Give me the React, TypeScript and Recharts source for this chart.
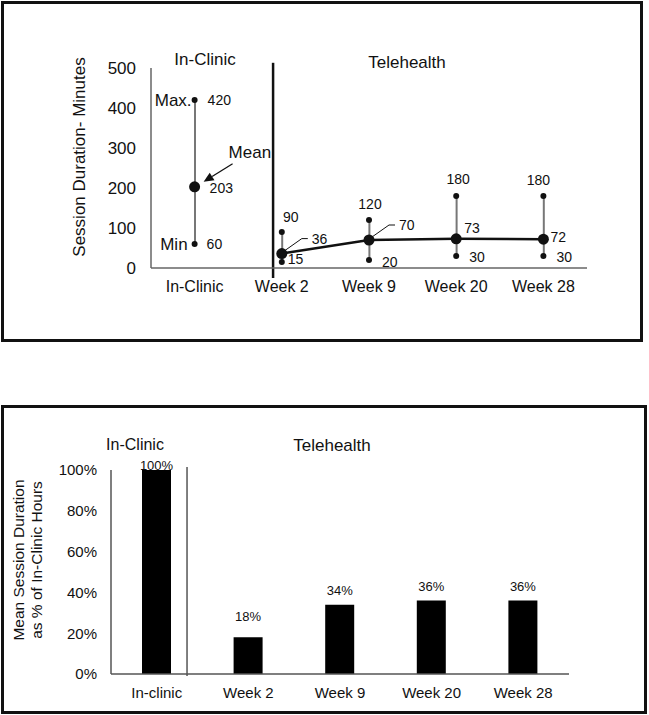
import React from "react";
import {
  ComposedChart,
  BarChart,
  Bar,
  Line,
  XAxis,
  YAxis,
  ReferenceLine,
  LabelList,
} from "recharts";

const FONT = "'Liberation Sans', Arial, sans-serif";
const INK = "#111";

// top panel: session duration in minutes
const SESSIONS = ["In-Clinic", "Week 2", "Week 9", "Week 20", "Week 28"];
const MIN_MINUTES = [60, 15, 20, 30, 30];
const MEAN_MINUTES = [203, 36, 70, 73, 72];
const MAX_MINUTES = [420, 90, 120, 180, 180];
const MINUTE_TICKS = [0, 100, 200, 300, 400, 500];

// bottom panel: mean duration as % of in-clinic
const PCT_CATEGORIES = ["In-clinic", "Week 2", "Week 9", "Week 20", "Week 28"];
const PCT_OF_CLINIC = [100, 18, 34, 36, 36];
const PCT_TICKS = [0, 20, 40, 60, 80, 100];

const durationData = SESSIONS.map((name, i) => ({
  name,
  range: [MIN_MINUTES[i], MAX_MINUTES[i]],
  min: MIN_MINUTES[i],
  max: MAX_MINUTES[i],
  clinicMean: i === 0 ? MEAN_MINUTES[i] : null,
  teleMean: i === 0 ? null : MEAN_MINUTES[i],
}));

const pctData = PCT_CATEGORIES.map((name, i) => ({ name, pct: PCT_OF_CLINIC[i] }));

// label nudges (styling only)
const MAX_NUDGE = [[13, 0], [9, -15], [1, -16], [2, -17], [-5, -16]];
const MEAN_NUDGE = [[15, 1], [30, -15], [30, -15], [8, -11], [7, -2]];
const MIN_NUDGE = [[12, 0], [6, -3], [13, 2], [13, 1], [13, 1]];
const BAR_LABEL_GAP = [5, 21, 14, 14, 14];

// eslint-disable-next-line @typescript-eslint/no-explicit-any
const ptX = (p: any) => (p.x ?? p.viewBox?.x) as number;
// eslint-disable-next-line @typescript-eslint/no-explicit-any
const ptY = (p: any) => (p.y ?? p.viewBox?.y) as number;

function T({ x, y, children, anchor = "start", size = 14 }: any) {
  return (
    <text
      x={x}
      y={y}
      textAnchor={anchor}
      dominantBaseline="central"
      fontSize={size}
      fontFamily={FONT}
      fill={INK}
    >
      {children}
    </text>
  );
}

// eslint-disable-next-line @typescript-eslint/no-explicit-any
function MaxLabel(props: any) {
  if (props.value == null) return null;
  const x = ptX(props), y = ptY(props), i = props.index ?? 0;
  const [dx, dy] = MAX_NUDGE[i];
  return (
    <g>
      {i === 0 && <T x={x - 3} y={y} anchor="end" size={17}>Max.</T>}
      <T x={x + dx} y={y + dy} anchor={i === 0 ? "start" : "middle"}>{props.value}</T>
    </g>
  );
}

// eslint-disable-next-line @typescript-eslint/no-explicit-any
function MinLabel(props: any) {
  if (props.value == null) return null;
  const x = ptX(props), y = ptY(props), i = props.index ?? 0;
  const [dx, dy] = MIN_NUDGE[i];
  return (
    <g>
      {i === 0 && <T x={x - 7} y={y} anchor="end" size={17}>Min</T>}
      <T x={x + dx} y={y + dy}>{props.value}</T>
    </g>
  );
}

// eslint-disable-next-line @typescript-eslint/no-explicit-any
function MeanLabel(props: any) {
  if (props.value == null) return null;
  const x = ptX(props), y = ptY(props), i = props.index ?? 0;
  const [dx, dy] = MEAN_NUDGE[i];
  if (i === 0) {
    // arrow pointing at the in-clinic mean
    const tip = [x + 9, y - 5];
    const tail = [x + 38, y - 23];
    const len = Math.hypot(tail[0] - tip[0], tail[1] - tip[1]);
    const ux = (tail[0] - tip[0]) / len, uy = (tail[1] - tip[1]) / len;
    const bx = tip[0] + ux * 10, by = tip[1] + uy * 10;
    const head = `${tip[0]},${tip[1]} ${bx - uy * 4.5},${by + ux * 4.5} ${bx + uy * 4.5},${by - ux * 4.5}`;
    return (
      <g>
        <line x1={bx} y1={by} x2={tail[0]} y2={tail[1]} stroke={INK} strokeWidth={1.3} />
        <polygon points={head} fill={INK} />
        <T x={x + 34} y={y - 34} size={17}>Mean</T>
        <T x={x + dx} y={y + dy}>{props.value}</T>
      </g>
    );
  }
  const leader = i === 1 || i === 2;
  return (
    <g>
      {leader && (
        <polyline
          points={`${x + 3},${y - 3} ${x + 20},${y - 15} ${x + 26},${y - 15}`}
          fill="none"
          stroke={INK}
          strokeWidth={1}
        />
      )}
      <T x={x + dx} y={y + dy}>{props.value}</T>
    </g>
  );
}

// eslint-disable-next-line @typescript-eslint/no-explicit-any
function BarTopLabel(props: any) {
  const { x, y, width, value, index } = props;
  return (
    <T x={x + width / 2} y={y - BAR_LABEL_GAP[index ?? 0]} anchor="middle" size={13}>
      {`${value}%`}
    </T>
  );
}

function Caption({ x, y, size, children }: any) {
  return (
    <div
      style={{
        position: "absolute",
        left: x,
        top: y,
        transform: "translate(-50%, -50%)",
        fontSize: size,
        lineHeight: 1,
        whiteSpace: "nowrap",
      }}
    >
      {children}
    </div>
  );
}

function VCaption({ x, y, size, lineHeight, children }: any) {
  return (
    <div
      style={{
        position: "absolute",
        left: x,
        top: y,
        transform: "translate(-50%, -50%) rotate(-90deg)",
        fontSize: size,
        lineHeight: `${lineHeight}px`,
        whiteSpace: "nowrap",
        textAlign: "center",
      }}
    >
      {children}
    </div>
  );
}

// the hidden helper axis spans the category index range 0..4 edge to edge
function DurationChart() {
  return (
    <div style={{ position: "absolute", left: 0, top: 0 }}>
      <ComposedChart
        width={649}
        height={345}
        data={durationData}
        margin={{ top: 68, right: 62, bottom: 47, left: 91 }}
      >
        <XAxis
          dataKey="name"
          interval={0}
          height={30}
          tickLine={false}
          tickSize={0}
          tickMargin={13}
          tick={{ fontSize: 16, fill: INK, fontFamily: FONT }}
          axisLine={{ stroke: "#666", strokeWidth: 1.5 }}
        />
        <XAxis xAxisId="div" type="number" domain={[0, 4]} hide allowDataOverflow />
        <YAxis
          domain={[0, 500]}
          ticks={MINUTE_TICKS}
          width={60}
          tickLine={false}
          tickSize={0}
          tickMargin={15}
          tick={{ fontSize: 17, fill: INK, fontFamily: FONT }}
          axisLine={{ stroke: "#666", strokeWidth: 1.5 }}
        />
        <ReferenceLine
          xAxisId="div"
          segment={[{ x: 1.12, y: -25 }, { x: 1.12, y: 513 }]}
          ifOverflow="visible"
          stroke={INK}
          strokeWidth={2.5}
        />
        <Bar dataKey="range" barSize={2} fill="#777" isAnimationActive={false} />
        <Line
          dataKey="max"
          stroke="none"
          dot={{ r: 3, fill: INK, stroke: "none" }}
          activeDot={false}
          isAnimationActive={false}
        >
          <LabelList dataKey="max" content={MaxLabel} />
        </Line>
        <Line
          dataKey="min"
          stroke="none"
          dot={{ r: 3, fill: INK, stroke: "none" }}
          activeDot={false}
          isAnimationActive={false}
        >
          <LabelList dataKey="min" content={MinLabel} />
        </Line>
        <Line
          dataKey="clinicMean"
          stroke="none"
          dot={{ r: 5.5, fill: INK, stroke: "none" }}
          activeDot={false}
          isAnimationActive={false}
        >
          <LabelList dataKey="clinicMean" content={MeanLabel} />
        </Line>
        <Line
          dataKey="teleMean"
          stroke={INK}
          strokeWidth={2.5}
          dot={{ r: 5.5, fill: INK, stroke: "none" }}
          activeDot={false}
          isAnimationActive={false}
        >
          <LabelList dataKey="teleMean" content={MeanLabel} />
        </Line>
      </ComposedChart>
    </div>
  );
}

function PercentChart() {
  return (
    <div style={{ position: "absolute", left: 0, top: 400 }}>
      <BarChart
        width={649}
        height={315}
        data={pctData}
        margin={{ top: 70, right: 80, bottom: 11, left: 51 }}
      >
        <XAxis
          dataKey="name"
          interval={0}
          height={30}
          tickLine={false}
          tickSize={0}
          tickMargin={13}
          tick={{ fontSize: 15, fill: INK, fontFamily: FONT }}
          axisLine={{ stroke: "#555", strokeWidth: 1.5 }}
        />
        <XAxis xAxisId="div" type="number" domain={[0, 4]} hide allowDataOverflow />
        <YAxis
          domain={[0, 100]}
          ticks={PCT_TICKS}
          tickFormatter={(v) => `${v}%`}
          width={60}
          tickLine={false}
          tickSize={0}
          tickMargin={14}
          tick={{ fontSize: 15, fill: INK, fontFamily: FONT }}
          axisLine={{ stroke: "#555", strokeWidth: 1.5 }}
        />
        <ReferenceLine
          xAxisId="div"
          segment={[{ x: 0.664, y: -1 }, { x: 0.664, y: 101.5 }]}
          ifOverflow="visible"
          stroke="#555"
          strokeWidth={1.5}
        />
        <Bar dataKey="pct" barSize={29} fill="#000" isAnimationActive={false}>
          <LabelList dataKey="pct" content={BarTopLabel} />
        </Bar>
      </BarChart>
    </div>
  );
}

export default function App() {
  return (
    <div
      style={{
        position: "absolute",
        left: 0,
        top: 0,
        width: 649,
        height: 715,
        background: "#fff",
        fontFamily: FONT,
        color: INK,
        overflow: "hidden",
      }}
    >
      <div
        style={{
          position: "absolute",
          left: 1,
          top: 1,
          width: 642,
          height: 341,
          border: "3px solid #111",
          boxSizing: "border-box",
        }}
      />
      <div
        style={{
          position: "absolute",
          left: 1,
          top: 405,
          width: 646,
          height: 309,
          border: "3px solid #111",
          boxSizing: "border-box",
        }}
      />
      <DurationChart />
      <PercentChart />
      <Caption x={205} y={59} size={17}>In-Clinic</Caption>
      <Caption x={407} y={62} size={17}>Telehealth</Caption>
      <VCaption x={80} y={157} size={17} lineHeight={18}>
        Session Duration- Minutes
      </VCaption>
      <Caption x={135} y={445} size={16}>In-Clinic</Caption>
      <Caption x={332} y={445} size={17}>Telehealth</Caption>
      <VCaption x={28} y={560} size={15.5} lineHeight={18}>
        Mean Session Duration
        <br />
        as % of In-Clinic Hours
      </VCaption>
    </div>
  );
}
